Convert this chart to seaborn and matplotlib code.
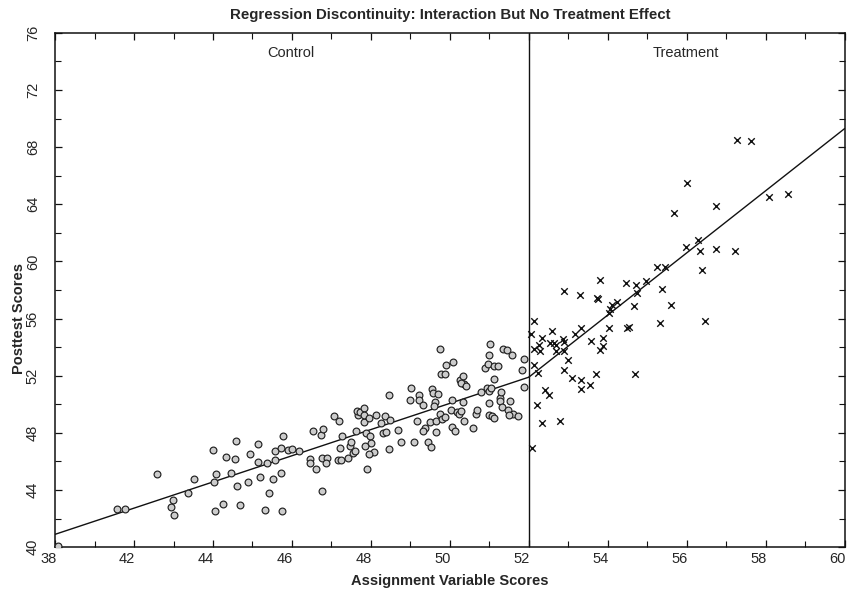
import matplotlib
matplotlib.use("Agg")
import matplotlib.pyplot as plt
import matplotlib.transforms as mtransforms
import seaborn as sns
import pandas as pd
from matplotlib.ticker import MultipleLocator

# ---- data ----
control_x = [40.08, 41.57, 41.77, 42.58, 42.99, 42.94, 43.00, 43.37, 43.52, 44.00, 44.07, 44.02, 44.06,
             44.25, 44.34, 44.56, 44.59, 44.46, 44.61, 44.69, 44.89, 44.94, 45.13, 45.15, 45.20, 45.32,
             45.43, 45.51, 45.58, 45.58, 45.71, 45.78, 45.71, 45.75, 45.90, 45.99, 46.19,
             45.37, 46.46, 46.46, 46.53, 46.62, 46.73, 46.78, 46.77, 46.89, 46.85, 46.77, 47.06, 47.18,
             47.16, 47.25, 47.21, 47.27, 47.42, 47.46, 47.50, 47.54, 47.60, 47.63, 47.67, 47.65, 47.73,
             47.82, 47.82, 47.83, 47.88, 47.94, 47.97, 48.01, 47.84, 48.07, 47.95, 47.89, 48.13, 48.26,
             48.30, 48.39, 48.35, 48.47, 48.49, 48.47, 48.68, 48.75,
             48.98, 49.02, 49.08, 49.16, 49.22, 49.23, 49.32, 49.36, 49.33, 49.44, 49.53, 49.49, 49.54,
             49.57, 49.63, 49.65, 49.65, 49.71, 49.61, 49.74, 49.78, 49.87, 49.76, 49.80, 49.87, 49.91,
             50.08, 50.03, 50.06, 50.06, 50.12, 50.18, 50.23, 50.29, 50.33, 50.35, 50.26, 50.33, 50.37,
             50.29, 50.40, 50.58, 50.65, 50.68, 50.79, 50.88, 50.96, 50.94, 51.00, 51.00, 50.99, 51.02,
             51.00, 51.05, 51.07, 51.13, 51.11, 51.13, 51.22, 51.27, 51.26, 51.30, 51.34, 51.44, 51.57,
             51.32, 51.47, 51.53, 51.59, 51.72, 51.51, 51.89, 51.82, 51.87]
control_y = [40.05, 42.65, 42.65, 45.12, 43.29, 42.80, 42.25, 43.80, 44.77, 46.81, 45.12, 44.53, 42.54,
             43.05, 46.34, 46.17, 47.46, 45.21, 44.30, 42.93, 44.53, 46.50, 47.20, 45.96, 44.88, 42.61,
             43.82, 44.77, 46.13, 46.76, 46.97, 47.80, 45.16, 42.56, 46.83, 46.90, 46.76,
             45.87, 46.16, 45.87, 48.10, 45.47, 47.87, 48.29, 46.27, 46.27, 45.87, 43.92, 49.20, 48.85,
             46.11, 46.11, 46.97, 47.75, 46.27, 47.11, 47.39, 46.57, 46.76, 48.15, 49.23, 49.51, 49.46,
             49.74, 48.75, 49.27, 47.98, 49.04, 47.75, 47.27, 47.11, 46.69, 46.50, 45.47, 49.23, 48.68,
             47.98, 48.03, 49.15, 50.63, 48.87, 46.88, 48.22, 47.39,
             50.28, 51.15, 47.39, 48.85, 50.63, 50.28, 49.93, 48.33, 48.15, 47.39, 47.04, 48.75, 51.08,
             50.80, 50.14, 48.80, 48.05, 50.75, 49.86, 53.85, 52.09, 52.09, 49.32, 48.99, 49.08, 52.73,
             52.98, 49.63, 50.33, 48.38, 48.15, 49.46, 49.32, 49.51, 50.16, 48.85, 51.67, 51.97, 51.43,
             51.50, 51.27, 48.33, 49.32, 49.58, 50.87, 52.51, 52.84, 51.11, 50.09, 49.27, 53.45, 54.20,
             50.92, 51.11, 49.15, 49.04, 51.74, 52.68, 52.68, 50.44, 50.21, 50.87, 53.85, 53.78, 53.45,
             49.79, 49.63, 50.26, 49.32, 49.15, 49.27, 51.20, 52.37, 53.15]

treat_x = [57.27, 57.63, 56.01, 55.69, 56.73, 58.09, 58.57, 56.28, 55.98, 56.33, 56.73, 57.22, 56.38,
           55.24, 55.46, 54.97, 54.46, 54.72, 54.73, 55.37, 54.67, 55.60, 54.48, 54.55, 55.33, 56.46,
           53.81, 52.88, 53.29, 53.75, 53.73, 54.23, 54.11, 54.06, 54.03, 52.14, 52.06, 52.58, 53.18,
           53.33, 54.03, 52.34, 52.25, 52.14, 52.29, 52.54, 52.65, 52.69, 52.86, 52.89, 52.69, 52.90,
           53.58, 53.87, 53.87, 53.81, 52.14, 52.99, 52.23, 52.88, 53.10, 53.33, 53.33, 53.56, 53.70,
           54.68, 52.41, 52.52, 52.20, 52.34, 52.80, 52.08]
treat_y = [68.52, 68.45, 65.47, 63.40, 63.90, 64.53, 64.72, 61.53, 61.01, 60.70, 60.89, 60.73, 59.37,
           59.58, 59.63, 58.64, 58.50, 58.38, 57.82, 58.08, 56.90, 56.95, 55.37, 55.44, 55.68, 55.82,
           58.73, 57.91, 57.68, 57.37, 57.42, 57.13, 56.95, 56.67, 56.36, 55.85, 54.91, 55.16, 54.95,
           55.31, 55.33, 54.67, 54.15, 53.85, 53.73, 54.32, 54.32, 54.15, 54.55, 54.39, 53.73, 53.73,
           54.44, 54.67, 54.08, 53.78, 52.75, 53.08, 52.21, 52.42, 51.81, 51.69, 51.10, 51.32, 52.09,
           52.09, 51.03, 50.68, 49.98, 48.68, 48.85, 46.92]

control_line_x = [40.0, 52.0]
control_line_y = [40.9, 51.9]
treat_line_x = [52.0, 60.0]
treat_line_y = [51.9, 69.3]
cutoff = 52.0

x_ticks = [40, 42, 44, 46, 48, 50, 52, 54, 56, 58, 60]
x_tick_labels = ["38", "42", "44", "46", "48", "50", "52", "54", "56", "58", "60"]
y_ticks = [40, 44, 48, 52, 56, 60, 64, 68, 72, 76]

title = "Regression Discontinuity: Interaction But No Treatment Effect"
x_label = "Assignment Variable Scores"
y_label = "Posttest Scores"

# ---- plotting ----
sns.set_style("ticks")
plt.rcParams['font.family'] = ['Liberation Sans', 'DejaVu Sans']

ctrl = pd.DataFrame({"x": control_x, "y": control_y})
trt = pd.DataFrame({"x": treat_x, "y": treat_y})
cl = pd.DataFrame({"x": control_line_x, "y": control_line_y})
tl = pd.DataFrame({"x": treat_line_x, "y": treat_line_y})

fig = plt.figure(figsize=(8.48, 5.98), dpi=100)
ax = fig.add_axes([0.065, 0.085, 0.931, 0.86])

sns.scatterplot(data=ctrl, x="x", y="y", ax=ax, marker="o", s=24,
                facecolor="#cccccc", edgecolor="#222222", linewidth=0.85, zorder=3)
sns.scatterplot(data=trt, x="x", y="y", ax=ax, marker="x", s=22,
                color="#111111", linewidth=1.0, zorder=3)
sns.lineplot(data=cl, x="x", y="y", ax=ax, color="#111111", linewidth=1.0, zorder=2)
sns.lineplot(data=tl, x="x", y="y", ax=ax, color="#111111", linewidth=1.0, zorder=2)
ax.axvline(cutoff, color="#111111", linewidth=1.0, zorder=2)

ax.set_xlim(40, 60)
ax.set_ylim(40, 76)
ax.set_xticks(x_ticks)
ax.set_xticklabels(x_tick_labels, fontsize=10.5)
ax.set_yticks(y_ticks)
ax.set_yticklabels([str(v) for v in y_ticks], fontsize=10.5, rotation=90, va="center")
ax.xaxis.set_minor_locator(MultipleLocator(1))
ax.yaxis.set_minor_locator(MultipleLocator(2))
ax.tick_params(which="both", direction="in", top=True, right=True, color="#111111")
ax.tick_params(which="major", length=5, width=0.9)
ax.tick_params(which="minor", length=4, width=0.8)
ax.tick_params(axis="y", which="major", pad=11)
for sp in ax.spines.values():
    sp.set_linewidth(1.1)
    sp.set_color("#111111")

# shift x tick labels slightly left, as in the reference
offset = mtransforms.ScaledTranslation(-5 / 72, 0, fig.dpi_scale_trans)
for lbl in ax.get_xticklabels():
    lbl.set_transform(lbl.get_transform() + offset)

ax.text(45.97, 74.6, "Control", ha="center", va="center", fontsize=10.5)
ax.text(55.97, 74.6, "Treatment", ha="center", va="center", fontsize=10.5)

ax.set_title(title, fontsize=10.8, fontweight="bold", pad=10)
ax.set_xlabel(x_label, fontsize=10.5, fontweight="bold", labelpad=6)
ax.set_ylabel(y_label, fontsize=10.5, fontweight="bold")
ax.yaxis.set_label_coords(-0.037, 0.445)

fig.savefig("out.png", dpi=100)
